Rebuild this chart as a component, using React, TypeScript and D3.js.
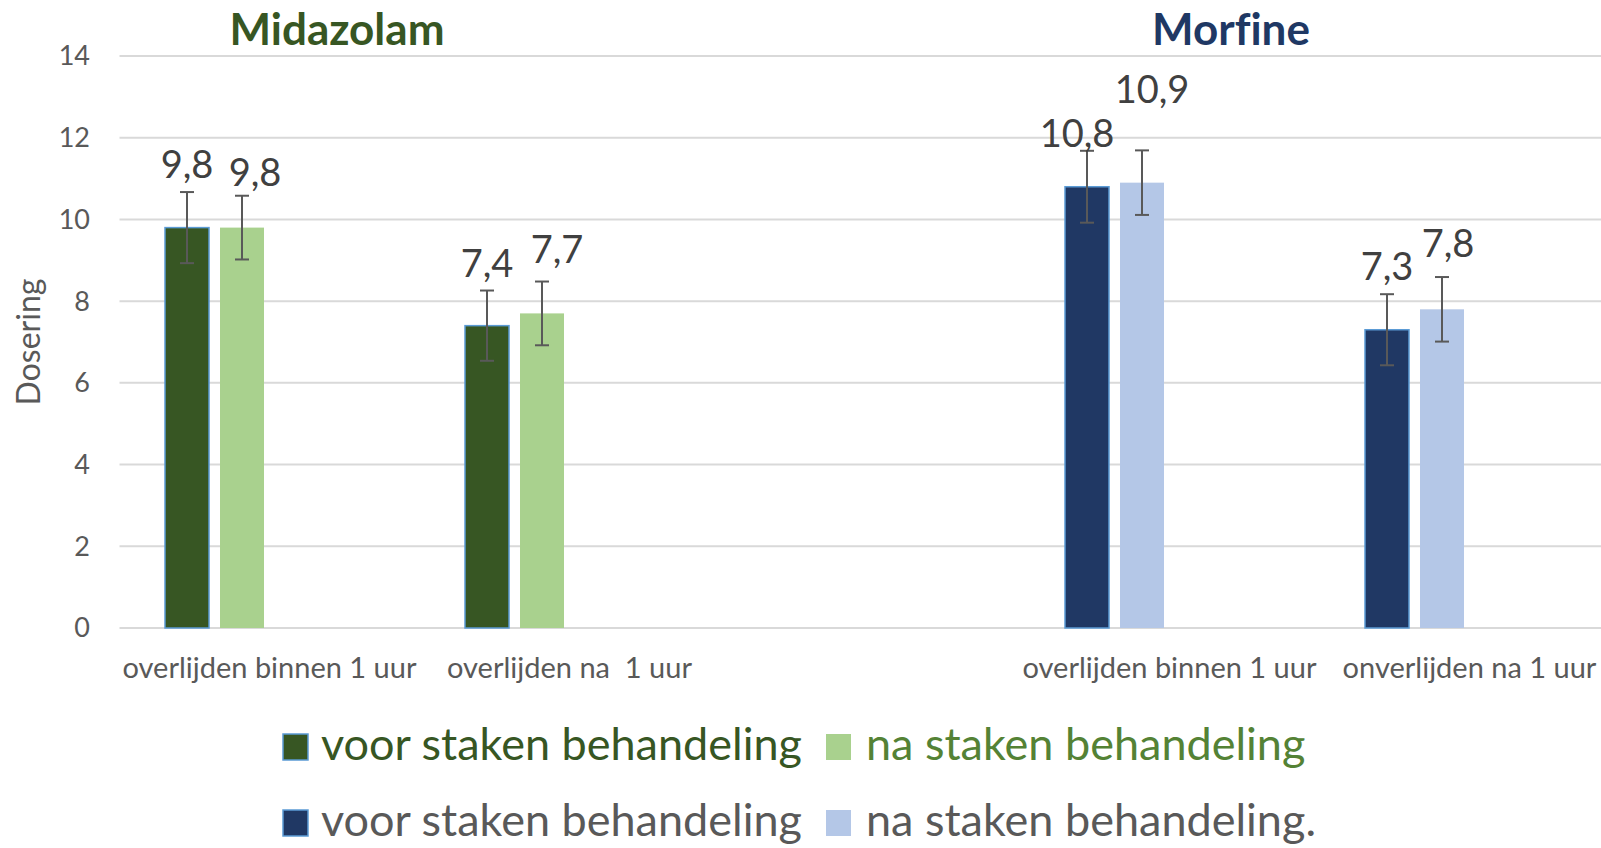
import React from "react";
import * as d3 from "d3";

// ---- data ----
const categories = ["overlijden binnen 1 uur", "overlijden na  1 uur", "", "overlijden binnen 1 uur", "onverlijden na 1 uur"];
const drugOfCategory = ["Midazolam", "Midazolam", "", "Morfine", "Morfine"];
const voorValues = [9.8, 7.4, null, 10.8, 7.3];
const naValues = [9.8, 7.7, null, 10.9, 7.8];
const voorErr = [0.87, 0.86, null, 0.88, 0.87];
const naErr = [0.78, 0.78, null, 0.79, 0.79];
const yTicks = [0, 2, 4, 6, 8, 10, 12, 14];
const titles = ["Midazolam", "Morfine"];
const legendLabels = ["voor staken behandeling", "na staken behandeling", "voor staken behandeling", "na staken behandeling."];

// ---- styles ----
const COLORS: Record<string, { voor: string; na: string; title: string }> = {
  Midazolam: { voor: "#375623", na: "#a9d18e", title: "#375623" },
  Morfine: { voor: "#203864", na: "#b4c7e7", title: "#1f3864" },
};
const FONT = "Lato, 'Open Sans', sans-serif";
const GRAY = "#595959";

// label nudges (layout only): [dx, dy]
const LABEL_NUDGE_VOOR: ([number, number] | null)[] = [[0, 0], [0, 0], null, [-10, 10], [0, 0]];
const LABEL_NUDGE_NA: ([number, number] | null)[] = [[13, 4], [15, -5], null, [10, -33], [6, -6]];

export default function App() {
  const W = 1601;
  const H = 848;
  const x0 = 119.5;
  const bandW = 300;
  const x = d3.scaleBand<number>().domain(d3.range(categories.length)).range([x0, x0 + bandW * categories.length]);
  const slot = d3.scaleBand<number>().domain([0, 1, 2, 3]).range([40, 260]).paddingInner(0.2).paddingOuter(0.1);
  const y = d3.scaleLinear().domain([0, 14]).range([628, 56]);
  const fmt = (v: number) => d3.format(".1f")(v).replace(".", ",");

  const bars: any[] = [];
  categories.forEach((c, i) => {
    const drug = drugOfCategory[i];
    if (!drug) return;
    const series = [
      { v: voorValues[i], e: voorErr[i], color: COLORS[drug].voor, slot: 0, dark: true, nudge: LABEL_NUDGE_VOOR[i] },
      { v: naValues[i], e: naErr[i], color: COLORS[drug].na, slot: 1, dark: false, nudge: LABEL_NUDGE_NA[i] },
    ];
    series.forEach((s) => {
      if (s.v == null) return;
      const bx = (x(i) as number) + (slot(s.slot) as number);
      bars.push({ ...s, bx, bw: slot.bandwidth(), key: `${i}-${s.slot}` });
    });
  });

  const titleX = [337, 1231];

  return (
    <svg width={W} height={H} style={{ position: "absolute", left: 0, top: 0, background: "#fff" }} fontFamily={FONT}>
      <rect x={0} y={0} width={W} height={H} fill="#fff" />
      {/* gridlines */}
      {yTicks.map((t) => (
        <g key={t}>
          <line x1={x0} x2={W} y1={y(t)} y2={y(t)} stroke="#d9d9d9" strokeWidth={2} />
          <text x={90} y={y(t)} dy="0.35em" textAnchor="end" fontSize={27} fill={GRAY}>
            {t}
          </text>
        </g>
      ))}
      {/* y title */}
      <text transform={`translate(40,342) rotate(-90)`} textAnchor="middle" fontSize={32} fill={GRAY}>
        Dosering
      </text>
      {/* titles */}
      {titles.map((t, k) => (
        <text
          key={t}
          x={titleX[k]}
          y={45}
          textAnchor="middle"
          fontSize={44}
          fontWeight="bold"
          fill={COLORS[t].title}
          style={{ fontVariantLigatures: "none" }}
        >
          {t}
        </text>
      ))}
      {/* bars */}
      {bars.map((b) => (
        <rect
          key={b.key}
          x={b.bx}
          y={y(b.v)}
          width={b.bw}
          height={y(0) - y(b.v)}
          fill={b.color}
          stroke={b.dark ? "#5b9bd5" : "none"}
          strokeWidth={b.dark ? 1.5 : 0}
        />
      ))}
      {/* error bars */}
      {bars.map((b) => {
        const cx = b.bx + b.bw / 2;
        const top = y(b.v + b.e);
        const bot = y(b.v - b.e);
        return (
          <g key={"e" + b.key} stroke={GRAY} strokeWidth={2}>
            <line x1={cx} x2={cx} y1={top} y2={bot} />
            <line x1={cx - 7} x2={cx + 7} y1={top} y2={top} />
            <line x1={cx - 7} x2={cx + 7} y1={bot} y2={bot} />
          </g>
        );
      })}
      {/* data labels */}
      {bars.map((b) => {
        const cx = b.bx + b.bw / 2 + (b.nudge ? b.nudge[0] : 0);
        const by = y(b.v + b.e) - 14 + (b.nudge ? b.nudge[1] : 0);
        return (
          <text key={"l" + b.key} x={cx} y={by} textAnchor="middle" fontSize={38} fill="#404040">
            {fmt(b.v)}
          </text>
        );
      })}
      {/* category labels */}
      {categories.map((c, i) =>
        c ? (
          <text
            key={"c" + i}
            x={(x(i) as number) + bandW / 2}
            y={678}
            textAnchor="middle"
            fontSize={29}
            fill={GRAY}
            style={{ whiteSpace: "pre" }}
          >
            {c}
          </text>
        ) : null
      )}
      {/* legend */}
      {[0, 1].map((row) => {
        const drug = titles[row];
        const yy = row === 0 ? 760 : 836;
        const textColors = row === 0 ? ["#375623", "#548235"] : [GRAY, GRAY];
        return (
          <g key={"lg" + row}>
            <rect x={283} y={yy - 26} width={25} height={26} fill={COLORS[drug].voor} stroke="#5b9bd5" strokeWidth={1.5} />
            <text x={321} y={yy} fontSize={45} fill={textColors[0]}>
              {legendLabels[row * 2]}
            </text>
            <rect x={826} y={yy - 26} width={25} height={26} fill={COLORS[drug].na} />
            <text x={866} y={yy} fontSize={45} fill={textColors[1]}>
              {legendLabels[row * 2 + 1]}
            </text>
          </g>
        );
      })}
    </svg>
  );
}
